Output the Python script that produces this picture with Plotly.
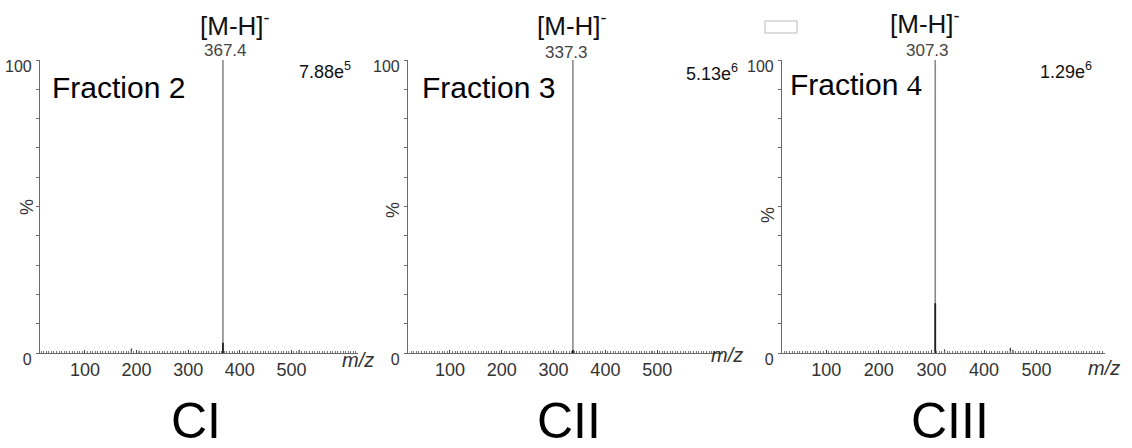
import plotly.graph_objects as go

W, H = 1132, 448

# ---- data ----
panels = ["CI", "CII", "CIII"]
base_peak_mz = [367.4, 337.3, 307.3]
base_peak_int = [100, 100, 100]
base_peak_labels = ["367.4", "337.3", "307.3"]
scale_labels = ["7.88e<sup>5</sup>", "5.13e<sup>6</sup>", "1.29e<sup>6</sup>"]
# dark lower part of the base peak (%)
dark_part = [3.5, 1.0, 17.0]
# small minor peaks (m/z, %)
minor_mz = [[190, 205, 515], [300, 490], [325, 450, 455]]
minor_int = [[1.5, 0.8, 1.0], [0.8, 0.8], [1.2, 1.8, 1.0]]
x_tickvals = [100, 200, 300, 400, 500]
y_tickvals = [0, 100]

# ---- layout geometry (pixels) ----
x_ranges = [[13, 629], [19, 627], [16, 630]]
x_dom_px = [(40, 358), (408, 723), (782, 1105)]
y_top_px, y_bot_px = 60, 353


def px(x):
    return x / W


def py(y):
    return 1 - y / H


fig = go.Figure()
AX = "#6a6a6a"
FONT = "Liberation Sans, Arial, sans-serif"

for i in range(3):
    xa = "x" if i == 0 else f"x{i+1}"
    ya = "y" if i == 0 else f"y{i+1}"
    fig.add_trace(go.Scatter(x=[base_peak_mz[i], base_peak_mz[i]], y=[0, base_peak_int[i]],
                             mode="lines", line=dict(color="#8a8a8a", width=1.6),
                             xaxis=xa, yaxis=ya, showlegend=False, hoverinfo="skip"))
    fig.add_trace(go.Scatter(x=[base_peak_mz[i], base_peak_mz[i]], y=[0, dark_part[i]],
                             mode="lines", line=dict(color="#222222", width=1.8),
                             xaxis=xa, yaxis=ya, showlegend=False, hoverinfo="skip"))
    for m, v in zip(minor_mz[i], minor_int[i]):
        fig.add_trace(go.Scatter(x=[m, m], y=[0, v], mode="lines",
                                 line=dict(color="#333333", width=1.2),
                                 xaxis=xa, yaxis=ya, showlegend=False, hoverinfo="skip"))

    x0, x1 = x_dom_px[i]
    key = "" if i == 0 else str(i + 1)
    fig.update_layout(**{
        f"xaxis{key}": dict(
            domain=[px(x0), px(x1)], range=x_ranges[i], anchor=ya, automargin=False,
            showline=True, linecolor=AX, linewidth=1.2, showgrid=False, zeroline=False,
            tickvals=x_tickvals, ticks="inside", ticklen=3, tickcolor="#444",
            tickfont=dict(family=FONT, size=18, color="#333"),
            minor=dict(dtick=5, ticks="inside", ticklen=2, tickcolor="#777", showgrid=False),
            fixedrange=True,
        ),
        f"yaxis{key}": dict(
            domain=[py(y_bot_px), py(y_top_px)], range=[0, 100], anchor=xa, automargin=False,
            showline=True, linecolor=AX, linewidth=1.2, showgrid=False, zeroline=False,
            tickvals=y_tickvals, ticks="outside", ticklen=3, tickcolor=AX,
            tickfont=dict(family=FONT, size=16, color="#333"),
            ticklabelshift=6, ticklabelstandoff=1,
            minor=dict(dtick=10, ticks="outside", ticklen=3, tickcolor="#666", showgrid=False),
            fixedrange=True,
        ),
    })

# ---- annotations ----
ann = []
mh_x = [235, 572, 925]
mh_y = [24, 24, 23]
lbl_x = [225, 566, 927]
lbl_y = [50, 52, 51]
sc_x = [325, 712, 1066]
sc_y = [70, 72, 70]
fr_x = [50, 420, 788]
fr_y = [88, 88, 85]
pct_x = [27, 393, 768]
pct_y = [207, 210, 215]
mz_x = [358, 727, 1104]
mz_y = [360, 355, 368]
bot_x = [196, 569, 950]
frac_txt = ["Fraction 2", "Fraction 3",
            "Fraction <span style='font-family:\"Liberation Serif\", serif'>4</span>"]

for i in range(3):
    ann.append(dict(x=px(mh_x[i]), y=py(mh_y[i]), text="[M-H]<sup>-</sup>",
                    font=dict(family=FONT, size=26, color="#111")))
    ann.append(dict(x=px(lbl_x[i]), y=py(lbl_y[i]), text=base_peak_labels[i],
                    font=dict(family=FONT, size=17, color="#444")))
    ann.append(dict(x=px(sc_x[i]), y=py(sc_y[i]), text=scale_labels[i],
                    font=dict(family=FONT, size=18, color="#111")))
    ann.append(dict(x=px(fr_x[i]), y=py(fr_y[i]), text=frac_txt[i], xanchor="left",
                    font=dict(family=FONT, size=30, color="#000")))
    ann.append(dict(x=px(pct_x[i]), y=py(pct_y[i]), text="%", textangle=-90,
                    font=dict(family=FONT, size=18, color="#333")))
    ann.append(dict(x=px(mz_x[i]), y=py(mz_y[i]), text="<i>m/z</i>",
                    font=dict(family=FONT, size=20, color="#333")))
    ann.append(dict(x=px(bot_x[i]), y=py(421), text=panels[i],
                    font=dict(family=FONT, size=50, color="#000")))

for a in ann:
    a.update(xref="paper", yref="paper", showarrow=False, xanchor=a.get("xanchor", "center"),
             yanchor="middle")

fig.update_layout(
    width=W, height=H, margin=dict(l=0, r=0, t=0, b=0, pad=0, autoexpand=False),
    paper_bgcolor="white", plot_bgcolor="white",
    annotations=ann, showlegend=False,
    shapes=[dict(type="rect", xref="paper", yref="paper",
                 x0=px(765), x1=px(797), y0=py(33), y1=py(21),
                 line=dict(color="#bbbbbb", width=1), fillcolor="white")],
)

fig.write_html("out.html")
